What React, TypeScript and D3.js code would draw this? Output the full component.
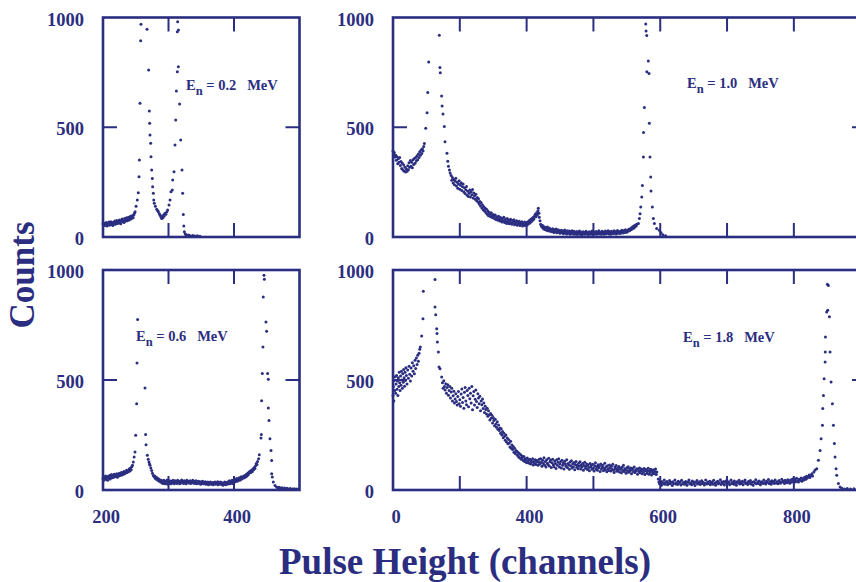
import React from 'react';
import * as d3 from 'd3';

type Pt = [number, number];

// ---- data: [channel, counts] ----
const spec02: Pt[] = [
  [200,60],[201,55],[202,63],[203,52],[204,58],[205,66],[206,50],[207,61],[208,56],[209,68],[210,54],[211,62],[212,70],[213,57],[214,65],[215,52],[216,67],[217,60],[218,73],[219,58],[220,66],[221,75],[222,62],[223,70],[224,64],[225,78],[226,68],[227,60],[228,74],[229,82],[230,70],[231,77],[232,66],[233,84],[234,72],[235,80],[236,88],[237,74],[238,82],[239,90],[240,78],[241,86],[242,94],[243,82],[244,90],[245,98],[246,88],[247,100],[248,108],
  [249,115],[250.5,140],[252.4,168],[253.9,202],[255,275],[255.5,351],[256.5,609],[257.5,894],[258,969],
  [267.2,946],[269.7,761],[270.7,574],[271.2,518],[271.8,465],[272.8,427],[273.3,366],[274.3,305],[275.3,267],[275.8,229],[276.8,199],[277.5,169],[278.3,154],[280,140],[282,126],[283.5,120],[284.5,115],[286,106],[287,100],[288,96],[289,90],[289.6,84],[290.5,92],[291.5,88],[292.5,100],[293.5,96],[294.7,108],[296,104],[297.5,115],[298.7,123],[300.8,146],[302.3,168],[303.8,206],[305.8,214],[306.4,260],[308.4,297],[309.9,419],[311,533],[312,665],[313.5,753],[313.5,935],[314,981],[315,776],[315.2,943],[317,606],[318.6,442],[320.6,305],[321.6,199],[322.6,103],[323.4,50],[324.2,24],[325.5,14],[327,10],[329,7],[331,9],[334,5],[337,7],[340,4],[344,6],[348,3]
];

const spec10: Pt[] = [
  [200,392],[201,376],[202,385],[203,364],[204,372],[205,350],[206,366],[207,334],[208,356],[209,340],[210,362],[211,326],[212,344],[213,312],[214,336],[215,305],[216,328],[217,300],[218,318],[219,296],[220,310],[221,300],[222,325],[223,306],[224,338],[225,318],[226,348],[227,322],[228,340],[229,315],[230,352],[231,330],[232,358],[233,336],[234,362],[235,346],[236,370],[237,352],[238,378],[239,362],[240,388],[241,372],[242,396],[243,380],[244,402],[245,392],[246,412],
  [247,426],[249,496],[251,566],[252,658],[253.4,797],[269.3,919],[270.3,772],[270.8,748],[272.8,642],[273.5,597],[274.8,560],[276.8,503],[277.8,434],[280.8,381],[282,345],[283,322],[284.5,305],[285.5,292],
  [287,280],[288,258],[289,271],[290,246],[291,262],[292,238],[293,255],[294,268],[295,232],[296,249],[297,222],[298,241],[299,256],[300,218],[301,236],[302,247],[303,212],[304,229],[305,242],[306,205],[307,224],[308,198],[309,215],[310,230],[311,190],[312,208],[313,184],[314,199],[315,214],[316,182],[317,206],[318,192],[319,216],[320,178],[321,201],[322,188],[323,172],[324,195],[325,166],[326,180],[327,160],[328,174],[329,150],[330,162],[331,141],[332,156],[333,132],[334,146],[335,124],[336,138],[337,118],[338,131],[339,112],[340,126],[341,104],[342,119],[343,97],[344,112],[345,106],[346,92],[347,110],[348,98],[349,88],[350,103],[351,94],[352,84],[353,100],[354,80],[355,92],[356,86],[357,76],[358,95],[359,82],[360,73],[361,89],[362,78],[363,68],[364,85],[365,74],[366,90],[367,66],[368,80],[369,71],[370,62],[371,84],[372,69],[373,76],[374,60],[375,72],[376,81],[377,64],[378,58],[379,75],[380,66],[381,79],[382,56],[383,70],[384,62],[385,74],[386,54],[387,67],[388,60],[389,72],[390,52],[391,65],[392,58],[393,70],[394,50],[395,62],[396,56],[397,68],[398,52],[399,60],[400,66],[401,55],[402,70],[403,62],[404,75],[405,64],[406,80],[407,70],[408,84],[409,76],[410,90],[411,82],[412,96],[413,104],[414,92],[415,110],[416,100],[417,120],[417.5,131],[418.5,108],[419,90],
  [420,74],[421,58],[422,50],[423,45],[424,52],[425,39],[426,47],[427,34],[428,43],[429,38],[430,31],[431,45],[432,28],[433,37],[434,41],[435,26],[436,35],[437,30],[438,24],[439,38],[440,29],[441,21],[442,33],[443,26],[444,36],[445,19],[446,28],[447,33],[448,22],[449,30],[450,17],[451,26],[452,31],[453,20],[454,27],[455,15],[456,24],[457,32],[458,18],[459,25],[460,14],[461,29],[462,21],[463,17],[464,27],[465,12],[466,23],[467,19],[468,28],[469,14],[470,22],[471,26],[472,12],[473,20],[474,16],[475,25],[476,11],[477,21],[478,18],[479,27],[480,13],[481,19],[482,23],[483,10],[484,17],[485,24],[486,14],[487,20],[488,12],[489,26],[490,16],[491,21],[492,11],[493,18],[494,24],[495,13],[496,20],[497,15],[498,27],[499,12],[500,19],[501,23],[502,14],[503,18],[504,25],[505,12],[506,21],[507,16],[508,28],[509,14],[510,22],[511,19],[512,13],[513,26],[514,17],[515,23],[516,12],[517,20],[518,27],[519,15],[520,22],[521,18],[522,29],[523,14],[524,24],[525,20],[526,13],[527,26],[528,18],[529,22],[530,15],[531,28],[532,19],[533,24],[534,14],[535,21],[536,30],[537,17],[538,25],[539,20],[540,16],[541,27],[542,22],[543,31],[544,18],[545,24],[546,28],[547,20],[548,33],[549,25],[550,22],[551,30],[552,27],[553,35],[554,29],[555,38],[556,33],[557,42],[558,36],[559,47],[560,40],[561,51],[562,45],[563,55],[564,50],[565,58],
  [567.3,61],[568.8,84],[569.8,106],[570.8,137],[572.3,182],[573.3,235],[574.8,364],[575,476],[576.3,590],[578.3,970],[578.8,939],[579.8,918],[580,753],[582.2,802],[583.2,745],[583.7,518],[584.7,364],[585.7,273],[586.2,209],[588.2,137],[589.7,84],[591.2,61],[594.7,39],[598.7,31],[601.2,19],[604,10],[608,6]
];

const spec06: Pt[] = [
  [200,52],[201,60],[202,46],[203,56],[204,64],[205,50],[206,58],[207,44],[208,62],[209,54],[210,66],[211,50],[212,60],[213,70],[214,56],[215,64],[216,58],[217,72],[218,60],[219,68],[220,62],[221,74],[222,58],[223,70],[224,64],[225,76],[226,66],[227,72],[228,80],[229,68],[230,78],[231,72],[232,84],[233,74],[234,82],[235,78],[236,90],[237,80],[238,88],[239,84],[240,96],[241,86],[242,100],[243,92],[244,106],[245,112],[246.3,127],[247.5,150],
  [248.9,173],[249.9,249],[251.4,392],[251.9,577],[252.9,775],[264.1,464],[265.1,252],[265.7,206],[267.7,158],[269,140],[270.2,127],[271,118],[271.8,112],[273,100],[274.3,89],[275.5,76],[276.8,66],[278,60],[279,64],[280,52],[281,58],[282,48],[283,54],[284,44],[285,50],[286,40],[287,46],[288,36],[289,44],[290,32],
  [291,40],[292,30],[293,44],[294,34],[295,28],[296,40],[297,32],[298,46],[299,26],[300,38],[301,30],[302,42],[303,34],[304,28],[305,40],[306,32],[307,44],[308,36],[309,28],[310,42],[311,34],[312,38],[313,30],[314,44],[315,36],[316,40],[317,28],[318,38],[319,32],[320,46],[321,36],[322,40],[323,30],[324,42],[325,34],[326,38],[327,28],[328,44],[329,36],[330,40],[331,32],[332,36],[333,42],[334,30],[335,38],[336,34],[337,44],[338,32],[339,40],[340,30],[341,36],[342,42],[343,28],[344,38],[345,34],[346,40],[347,30],[348,36],[349,26],[350,38],[351,32],[352,40],[353,28],[354,34],[355,30],[356,38],[357,26],[358,34],[359,30],[360,36],[361,24],[362,32],[363,28],[364,36],[365,26],[366,34],[367,30],[368,24],[369,34],[370,28],[371,36],[372,26],[373,32],[374,28],[375,38],[376,24],[377,32],[378,28],[379,36],[380,26],[381,34],[382,30],[383,22],[384,32],[385,28],[386,36],[387,24],[388,30],[389,34],[390,26],[391,38],[392,30],[393,42],[394,28],[395,36],[396,32],[397,44],[398,30],[399,40],[400,36],[401,48],[402,38],[403,44],[404,52],[405,40],[406,50],[407,46],[408,56],[409,44],[410,52],[411,60],[412,50],[413,58],[414,54],[415,64],[416,56],[417,66],[418,60],[419,72],[420,64],[421,76],[422,70],[423,82],[424,78],[425,86],[426,80],[427,90],[428,84],[429,97],[430,92],[431,102],[432,98],[433,110],[434,120],[435,116],[436,130],[437.5,142],[438.6,160],
  [441.2,236],[441.7,252],[442.2,406],[443.2,529],[444.2,650],[444.7,877],[445.8,976],[446.3,958],[448.8,764],[449.8,722],[451.3,529],[452.4,503],[452.4,373],[453.4,316],[454.9,233],[456.5,180],[457.5,134],[457.5,74],[458.5,59],[460,36],[462.6,21],[465,14],[467,10],[469,12],[471,8],[473,10],[475,6],[477,9],[479,5],[481,8],[483,4],[486,7],[489,5],[492,6],[495,4],[498,5]
];

const spec18: Pt[] = [
  [200,430],[200.7,470],[201.3,405],[202,498],[202.6,452],[203.3,515],[204,440],[204.6,482],[205.3,520],[206,458],[206.6,495],[207.3,430],[208,510],[208.6,470],[209.3,535],[210,488],[210.6,452],[211.3,518],[212,476],[212.6,540],[213.3,500],[214,462],[214.6,528],[215.3,490],[216,548],[216.6,510],[217.3,472],[218,535],[218.6,498],[219.3,556],[220,520],[221,482],[222,545],[223,508],[224,562],[225,526],[226,495],[227,555],[228,518],[229,578],[230,540],[231,565],[232,528],[233,590],[234,552],[235,600],[236,570],[237,612],[238,585],[239,622],[240,640],
  [240.9,650],[242.9,700],[244.9,778],[245.4,903],[262.9,957],[262.9,832],[263.9,797],[265.4,733],[265.9,711],[266.4,673],[267.9,627],[268.9,559],[270.4,551],[272.9,514],
  [274,488],[275,462],[276,497],[277,471],[278,455],[279,483],[280,440],[281,466],[282,478],[283,431],[284,452],[285,470],[286,418],[287,445],[288,462],[289,405],[290,428],[291,449],[292,396],[293,414],[294,437],[295,402],[296,386],[297,425],[298,448],[299,392],[300,410],[301,381],[302,436],[303,459],[304,398],[305,420],[306,372],[307,444],[308,466],[309,405],[310,388],[311,452],[312,430],[313,378],[314,462],[315,415],[316,440],[317,395],[318,470],[319,365],[320,428],[321,448],[322,386],[323,412],[324,455],[325,402],[326,375],[327,438],[328,418],[329,392],[330,426],[331,360],[332,405],[333,388],[334,414],[335,370],[336,396],[337,352],[338,381],[339,366],[340,346],[341,372],[342,335],[343,360],[344,342],[345,318],[346,348],[347,326],[348,340],[349,305],[350,330],[351,316],[352,292],[353,322],[354,300],[355,285],[356,310],[357,276],[358,296],[359,270],[360,282],[361,258],[362,278],[363,250],[364,266],[365,238],[366,258],[367,244],[368,226],[369,250],[370,218],[371,236],[372,210],[373,230],[374,214],[375,196],[376,222],[377,190],[378,205],[379,184],[380,198],[381,172],[382,190],[383,166],[384,180],[385,176],[386,158],[387,172],[388,150],[389,166],[390,146],[391,160],[392,140],[393,155],[394,148],[395,134],[396,152],[397,130],[398,142],[399,138],[400,124],[401,146],[402,128],[403,136],[404,122],[405,140],[406,118],[407,132],[408,126],[409,142],[410,114],[411,130],[412,120],[413,138],[414,116],[415,128],[416,134],[417,112],[418,126],[419,140],
  [420,118],[421,142],[422,126],[423,108],[424,135],[425,120],[426,147],[427,112],[428,130],[429,104],[430,138],[431,122],[432,116],[433,144],[434,109],[435,128],[436,136],[437,102],[438,124],[439,140],[440,115],[441,106],[442,132],[443,121],[444,98],[445,137],[446,113],[447,126],[448,142],[449,104],[450,118],[451,129],[452,100],[453,135],[454,112],[455,123],[456,96],[457,131],[458,118],[459,108],[460,138],[461,102],[462,121],[463,114],[464,94],[465,127],[466,110],[467,133],[468,100],[469,119],[470,106],[471,125],[472,92],[473,116],[474,130],[475,103],[476,112],[477,97],[478,122],[479,108],[480,128],[481,95],[482,114],[483,104],[484,120],[485,90],[486,111],[487,126],[488,99],[489,108],[490,118],[491,93],[492,114],[493,102],[494,88],[495,121],[496,104],[497,112],[498,94],[499,117],[500,100],[501,86],[502,110],[503,124],[504,96],[505,106],[506,90],[507,115],[508,101],[509,109],[510,84],[511,118],[512,95],[513,104],[514,112],[515,88],[516,99],[517,122],[518,92],[519,106],[520,83],[521,110],[522,97],[523,89],[524,114],[525,101],[526,86],[527,108],[528,94],[529,117],[530,90],[531,80],[532,104],[533,96],[534,111],[535,85],[536,99],[537,92],[538,107],[539,82],[540,100],[541,94],[542,78],[543,103],[544,89],[545,112],[546,84],[547,97],[548,91],[549,76],[550,101],[551,88],[552,106],[553,81],[554,95],[555,86],[556,100],[557,74],[558,92],[559,98],[560,83],[561,104],[562,79],[563,90],[564,86],[565,97],[566,72],[567,94],[568,84],[569,100],[570,78],[571,88],[572,96],[573,74],[574,91],[575,82],[576,98],[577,70],[578,87],[579,93],[580,76],[581,85],[582,99],[583,72],[584,89],[585,80],[586,94],[587,68],[588,86],[589,78],[590,92],[591,74],[592,84],[593,96],[594,70],[595,82],
  [597,50],[598,36],[599,28],[600,41],[601,33],[602,22],[603,38],[605,30],[606,45],[607,26],[608,34],[610,39],[611,24],[612,31],[614,43],[615,28],[616,35],[618,21],[619,37],[620,30],[622,46],[623,27],[624,33],[626,25],[627,40],[628,31],[630,36],[631,23],[632,44],[634,29],[635,34],[636,26],[638,39],[639,32],[640,22],[642,37],[643,45],[644,28],[646,33],[647,24],[648,41],[650,30],[651,36],[652,20],[654,34],[655,43],[656,27],[658,32],[659,38],[660,25],[662,42],[663,29],[664,35],[666,23],[667,31],[668,46],[670,27],[671,36],[672,30],[674,40],[675,24],[676,33],[678,37],[679,26],[680,44],[682,31],[683,22],[684,35],[686,40],[687,28],[688,33],[690,47],[691,25],[692,36],[694,30],[695,39],[696,23],[698,34],[699,42],[700,27],[702,32],[703,38],[704,24],[706,45],[707,30],[708,35],[710,26],[711,41],[712,31],[714,22],[715,37],[716,33],[718,44],[719,27],[720,35],[722,29],[723,40],[724,24],[726,36],[727,46],[728,30],[730,33],[731,25],[732,39],[734,31],[735,43],[736,27],[738,35],[739,22],[740,38],[742,32],[743,47],[744,28],[746,36],[747,30],[748,41],[750,24],[751,34],[752,38],[754,29],[755,45],[756,33],[758,27],[759,40],[760,35],[762,48],[763,30],[764,37],[766,26],[767,42],[768,34],[770,39],[771,29],[772,46],[774,33],[775,38],[776,28],[778,43],[779,35],[780,31],[782,49],[783,36],[784,40],[786,30],[787,44],[788,37],[790,33],[791,47],[792,39],[794,31],[795,45],[796,36],[798,50],[799,40],[800,34],[802,47],[803,38],[804,53],[806,42],[807,36],[808,49],[810,44],[811,55],[812,40],[814,51],[815,46],[816,58],[818,49],[819,62],[820,54],[822,60],[823,68],[824,57],[826,66],[827,74],[828,64],[830,82],
  [831.8,91],[834.3,97],[836.8,135],[839.3,180],[840.8,233],[842.8,294],[843.3,370],[844.3,430],[845.3,506],[846.8,582],[847,627],[847.3,695],[849.2,809],[850.2,935],[850.7,817],[851.7,930],[853.2,787],[854.2,627],[855.7,491],[857.7,392],[859.2,294],[860.7,211],[861.7,150],[863.2,97],[864.2,67],[866.7,29],[869.2,14],[872,8],[876,5],[880,7],[885,4],[890,6],[895,3],[900,5]
];

const energies = ['0.2', '1.0', '0.6', '1.8'];
const yTickValues = [0, 500, 1000];
const yTickLabels = ['0', '500', '1000'];
const yInnerTicks = [500];
const narrowInnerTicks = [300, 400];
const wideInnerTicks = [300, 400, 500, 600, 700, 800, 900];
const narrowLabelValues = [200, 400];
const narrowLabels = ['200', '400'];
const wideLabelValues = [200, 400, 600, 800];
const wideLabels = ['0', '400', '600', '800'];

const INK = '#2b2e80';
const FONT = "'Liberation Serif', 'Times New Roman', serif";

interface PanelCfg {
  data: Pt[];
  energy: string;
  xDomain: [number, number];
  xRange: [number, number];
  yRange: [number, number];
  inner: number[];
  labelValues: number[] | null;
  labels: string[] | null;
  ann: [number, number];
}

const panels: PanelCfg[] = [
  { data: spec02, energy: energies[0], xDomain: [200, 500], xRange: [103, 299.5], yRange: [237, 17.5], inner: narrowInnerTicks, labelValues: null, labels: null, ann: [186, 90] },
  { data: spec10, energy: energies[1], xDomain: [200, 908], xRange: [393, 866], yRange: [237, 17.5], inner: wideInnerTicks, labelValues: null, labels: null, ann: [687, 88] },
  { data: spec06, energy: energies[2], xDomain: [200, 500], xRange: [103, 299.5], yRange: [490, 270], inner: narrowInnerTicks, labelValues: narrowLabelValues, labels: narrowLabels, ann: [136, 341] },
  { data: spec18, energy: energies[3], xDomain: [200, 908], xRange: [393, 866], yRange: [490, 270], inner: wideInnerTicks, labelValues: wideLabelValues, labels: wideLabels, ann: [683, 342] },
];

const TICK = 14;

function Panel({ cfg }: { cfg: PanelCfg }) {
  const x = d3.scaleLinear().domain(cfg.xDomain).range(cfg.xRange);
  const y = d3.scaleLinear().domain([0, 1000]).range(cfg.yRange);
  const [x0, x1] = cfg.xRange;
  const yb = y(0);
  const yt = y(1000);
  const pts = cfg.data.filter(d => d[1] <= 1000 && d[0] >= cfg.xDomain[0] && d[0] <= cfg.xDomain[1]);
  return (
    <g>
      {pts.map((d, i) => (
        <circle key={i} cx={x(d[0])} cy={y(d[1])} r={1.5} fill={INK} />
      ))}
      <rect x={x0} y={yt} width={x1 - x0} height={yb - yt} fill="none" stroke={INK} strokeWidth={2.6} />
      {cfg.inner.map(v => (
        <g key={'t' + v}>
          <line x1={x(v)} x2={x(v)} y1={yt} y2={yt + TICK} stroke={INK} strokeWidth={2} />
          <line x1={x(v)} x2={x(v)} y1={yb} y2={yb - TICK} stroke={INK} strokeWidth={2} />
        </g>
      ))}
      {yInnerTicks.map(v => (
        <g key={'y' + v}>
          <line x1={x0} x2={x0 + TICK} y1={y(v)} y2={y(v)} stroke={INK} strokeWidth={2} />
          <line x1={x1} x2={x1 - TICK} y1={y(v)} y2={y(v)} stroke={INK} strokeWidth={2} />
        </g>
      ))}
      {yTickValues.map((v, i) => (
        <text key={'yl' + v} x={x0 - 19} y={y(v) + 2} textAnchor="end" dominantBaseline="central"
          fontFamily={FONT} fontWeight="bold" fontSize={18.5} fill={INK}>{yTickLabels[i]}</text>
      ))}
      {cfg.labelValues && cfg.labelValues.map((v, i) => (
        <text key={'xl' + v} x={x(v) + 3} y={yb + 27} textAnchor="middle" dominantBaseline="central"
          fontFamily={FONT} fontWeight="bold" fontSize={18.5} fill={INK}>{cfg.labels![i]}</text>
      ))}
      <text x={cfg.ann[0]} y={cfg.ann[1]} fontFamily={FONT} fontWeight="bold" fontSize={14.5} fill={INK}
        style={{ whiteSpace: 'pre' }}>
        <tspan>E</tspan>
        <tspan dy={4.5} fontSize={12.5}>n</tspan>
        <tspan dy={-4.5}>{' = ' + cfg.energy + '   MeV'}</tspan>
      </text>
    </g>
  );
}

export default function App() {
  return (
    <svg width={856} height={582} style={{ position: 'absolute', left: 0, top: 0, background: '#fff' }}>
      <rect x={0} y={0} width={856} height={582} fill="#fff" />
      {panels.map((p, i) => <Panel key={i} cfg={p} />)}
      <text transform="translate(22.5,275) rotate(-90)" textAnchor="middle" dominantBaseline="central"
        fontFamily={FONT} fontWeight="bold" fontSize={35} fill={INK}>Counts</text>
      <text x={465} y={574} textAnchor="middle" fontFamily={FONT} fontWeight="bold" fontSize={37} fill={INK}>
        Pulse Height (channels)
      </text>
    </svg>
  );
}
